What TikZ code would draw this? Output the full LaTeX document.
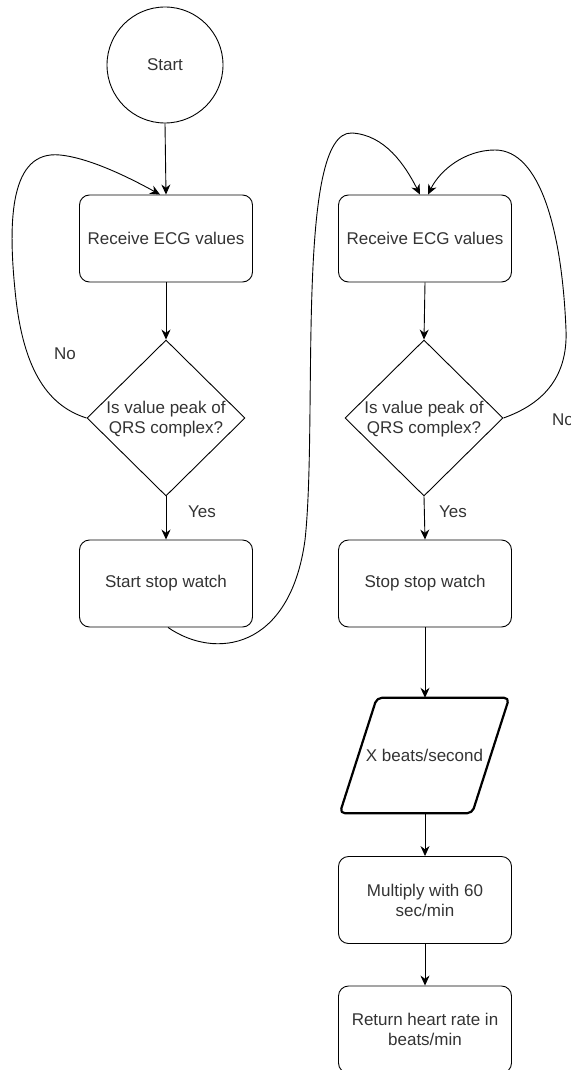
\documentclass[tikz,border=0pt]{standalone}
\usepackage{fontspec}
\setmainfont{Liberation Sans}
\usetikzlibrary{shapes.geometric,arrows.meta}
\begin{document}
\begin{tikzpicture}[x=1pt,y=-1pt,
  every node/.style={font=\fontsize{17}{20}\selectfont, text=black!80},
  procbox/.style={draw, rectangle, rounded corners=10pt, minimum width=173pt, minimum height=87pt, align=center, inner sep=0pt, line width=0.9pt},
  decbox/.style={draw, diamond, minimum width=158pt, minimum height=156pt, inner sep=0pt, line width=0.9pt},
  iobox/.style={rectangle, minimum width=132pt, minimum height=115pt, inner sep=0pt},
  ioframe/.style={line width=2.2pt, rounded corners=5pt, line join=round},
  startbox/.style={draw, circle, minimum size=116pt, inner sep=0pt, line width=0.9pt},
  flow/.style={line width=0.9pt, -{Stealth[length=10pt,width=9pt]}},
  lbl/.style={inner sep=0pt}
]
\useasboundingbox (0,0) rectangle (570,1070);
% left column
\node[startbox] (start) at (165,65) {Start};
\node[procbox] (r1) at (166,238.5) {Receive ECG values};
\node[decbox] (d1) at (166,418) {};
\node[align=center, inner sep=0pt] (d1t) at (166,419) {Is value peak of\\QRS complex?};
\node[procbox] (s1) at (166,583.5) {Start stop watch};
% right column
\node[procbox] (r2) at (425,238.5) {Receive ECG values};
\node[decbox] (d2) at (424,418) {};
\node[align=center, inner sep=0pt] (d2t) at (424,419) {Is value peak of\\QRS complex?};
\node[procbox] (s2) at (425,583.5) {Stop stop watch};
\node[iobox] (par) at (424.5,755.5) {X beats/second};
\draw[ioframe] ([xshift=-18.5pt]par.south west) -- ([xshift=18.5pt]par.north west)
  -- ([xshift=18.5pt]par.north east) -- ([xshift=-18.5pt]par.south east) -- cycle;
\node[procbox] (m) at (425,900) {Multiply with 60\\sec/min};
\node[procbox] (ret) at (425,1029.5) {Return heart rate in\\beats/min};
% labels
\node[lbl] (no1) at (65,354) {No};
\node[lbl] (yes1) at (202,512) {Yes};
\node[lbl] (yes2) at (453,512) {Yes};
\node[lbl, anchor=west] (no2) at (552,420) {No};
% straight connectors
\draw[flow] (start.south) -- (r1.north);
\draw[flow] (r1.south) -- (d1.north);
\draw[flow] (d1.south) -- (s1.north);
\draw[flow] (r2.south) -- (d2.north);
\draw[flow] (d2.south) -- (s2.north);
\draw[flow] (s2.south) -- (s2.south |- par.north);
\draw[flow] (s2.south |- par.south) -- (m.north);
\draw[flow] (m.south) -- (ret.north);
% loops
\draw[flow] (d1.west) .. controls (45,405) and (22,365) .. (15,290)
  .. controls (8,220) and (10,150) .. (60,155)
  .. controls (90,158) and (130,178) .. ([xshift=-6pt]r1.north);
\draw[flow] ([xshift=2pt]s1.south) .. controls (215,660) and (290,650) .. (305,540)
  .. controls (318,420) and (295,130) .. (352,133)
  .. controls (385,135) and (405,165) .. ([xshift=-5pt]r2.north);
\draw[flow] (d2.east) .. controls (540,405) and (568,380) .. (566,330)
  .. controls (562,230) and (540,150) .. (495,150)
  .. controls (465,150) and (440,170) .. ([xshift=3pt]r2.north);
\end{tikzpicture}
\end{document}
